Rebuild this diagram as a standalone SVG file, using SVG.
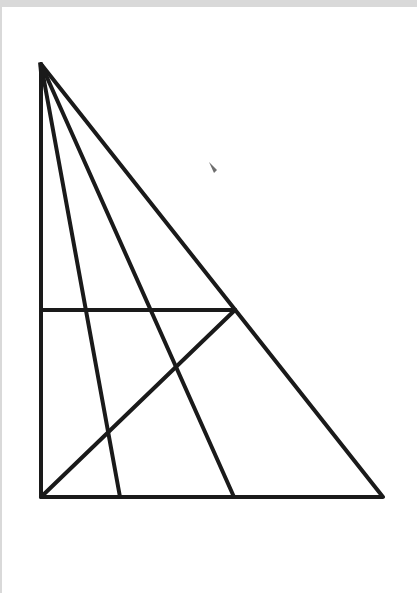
<svg xmlns="http://www.w3.org/2000/svg" width="417" height="593" viewBox="0 0 417 593">
<style>
.ln{stroke:#1a1a1a;stroke-width:4;stroke-linecap:round;stroke-linejoin:round;fill:none}
</style>
<rect x="0" y="0" width="417" height="593" fill="#ffffff"/>
<rect x="0" y="0" width="417" height="7" fill="#d9d9d9"/>
<rect x="0" y="0" width="2" height="593" fill="#d9d9d9"/>
<g id="connectors">
<polygon id="triangle" class="ln" points="41,64 383,497 41,497"/>
<path class="ln" d="M41,64 L120,497"/>
<path class="ln" d="M41,64 L234,497"/>
<path class="ln" d="M41,310 L235,310"/>
<path class="ln" d="M41,497 L235,310"/>
<path d="M38,62 L48,73 L40,82 Z" fill="#1a1a1a"/>
</g>
<path d="M209,162 L217,170 L214,173 Z" fill="#555" opacity="0.85"/>
</svg>
